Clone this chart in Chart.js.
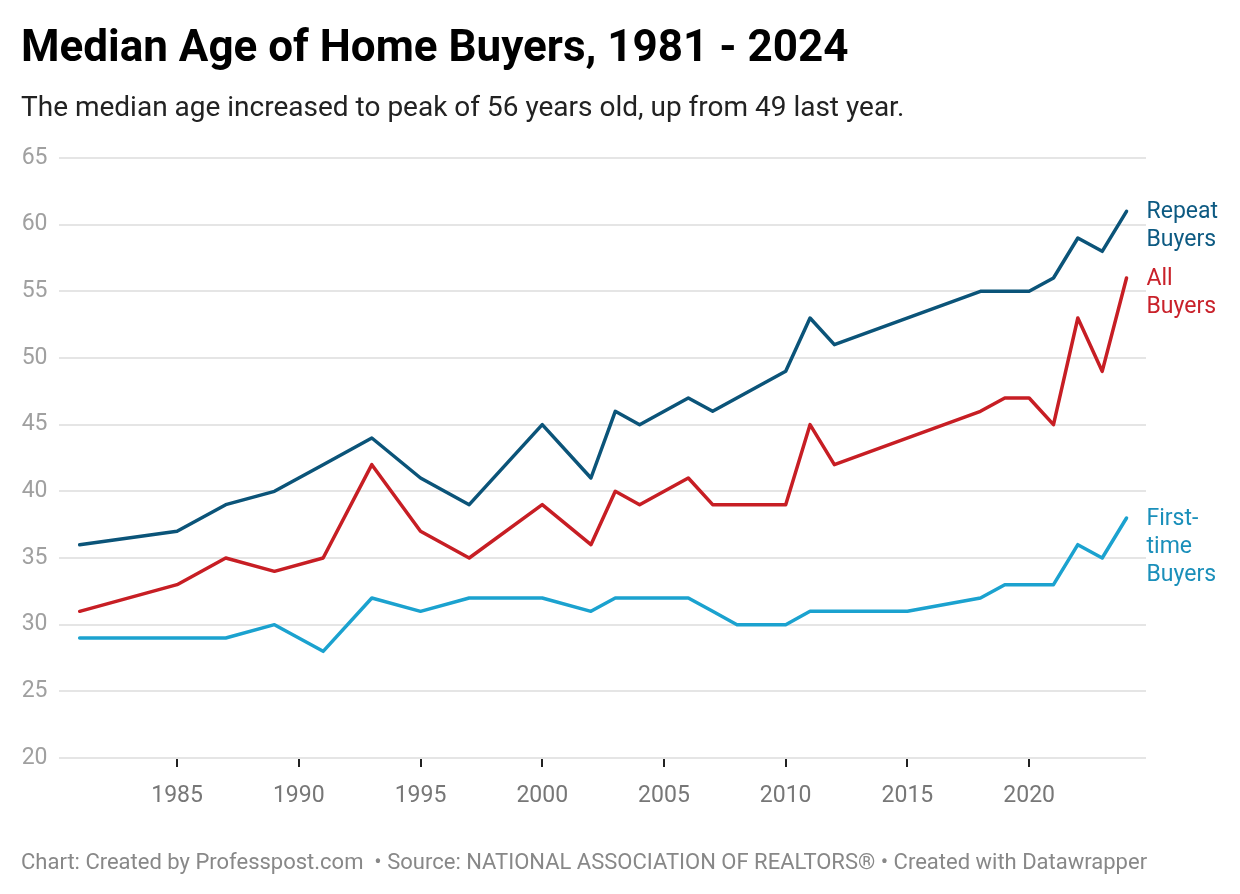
<!DOCTYPE html>
<html>
<head>
<meta charset="utf-8">
<script src="https://cdn.jsdelivr.net/npm/chart.js@4"></script>
<style>
  body { margin: 0; background: #fff; font-family: Roboto, sans-serif; }
  #wrap { position: relative; width: 1240px; height: 894px; }
  #grafica { position: absolute; left: 0; top: 0; }
  h1, p { line-height: 1; white-space: nowrap; }
  h1 { position: absolute; left: 21px; top: 24px; margin: 0; font-size: 44px; font-weight: 700; color: #000; }
  .sub { position: absolute; left: 21px; top: 93px; margin: 0; font-size: 28px; color: #222; }
  .foot { position: absolute; left: 21px; top: 851px; margin: 0; font-size: 22px; color: #888; }
</style>
</head>
<body>
<div id="wrap">
  <canvas id="grafica" width="1240" height="894"></canvas>
  <h1>Median Age of Home Buyers, 1981 - 2024</h1>
  <p class="sub">The median age increased to peak of 56 years old, up from 49 last year.</p>
  <p class="foot">Chart: Created by Professpost.com &nbsp;• Source: NATIONAL ASSOCIATION OF REALTORS® • Created with Datawrapper</p>
</div>
<script>
const years = [1981, 1985, 1987, 1989, 1991, 1993, 1995, 1997, 2000, 2002, 2003, 2004, 2006, 2007, 2008, 2010, 2011, 2012, 2015, 2018, 2019, 2020, 2021, 2022, 2023, 2024];
const repeatBuyers = [36, 37, 39, 40, 42, 44, 41, 39, 45, 41, 46, 45, 47, 46, null, 49, 53, 51, null, 55, null, 55, 56, 59, 58, 61];
const allBuyers = [31, 33, 35, 34, 35, 42, 37, 35, 39, 36, 40, 39, 41, 39, 39, 39, 45, 42, null, 46, 47, 47, 45, 53, 49, 56];
const firstTime = [29, 29, 29, 30, 28, 32, 31, 32, 32, 31, 32, 32, 32, 31, 30, 30, 31, 31, 31, 32, 33, 33, 33, 36, 35, 38];
const xTicks = [1985, 1990, 1995, 2000, 2005, 2010, 2015, 2020];
const seriesNames = [["Repeat", "Buyers"], ["All", "Buyers"], ["First-", "time", "Buyers"]];

function puntos(vals) {
  return years.map((y, i) => ({ x: y, y: vals[i] }));
}

// etiquetas al final de cada linea
const etiquetas = {
  id: 'etiquetas',
  afterDatasetsDraw(chart) {
    const ctx = chart.ctx;
    ctx.save();
    ctx.font = '23px Roboto';
    ctx.textBaseline = 'middle';
    ctx.textAlign = 'left';
    chart.data.datasets.forEach((ds, i) => {
      const meta = chart.getDatasetMeta(i);
      const last = meta.data[meta.data.length - 1];
      ctx.fillStyle = ds.labelColor;
      seriesNames[i].forEach((t, j) => {
        ctx.fillText(t, last.x + 20, last.y + 1 + j * 28);
      });
    });
    ctx.restore();
  }
};

const ctx = document.getElementById("grafica").getContext("2d");
new Chart(ctx, {
  type: 'line',
  data: {
    datasets: [
      { label: 'Repeat Buyers', data: puntos(repeatBuyers), borderColor: '#0b5479', labelColor: '#0d5a82' },
      { label: 'All Buyers', data: puntos(allBuyers), borderColor: '#c71e24', labelColor: '#c9212a' },
      { label: 'First-time Buyers', data: puntos(firstTime), borderColor: '#1ba2cf', labelColor: '#1a8fba' }
    ]
  },
  plugins: [etiquetas],
  options: {
    responsive: false,
    animation: false,
    spanGaps: true,
    layout: { padding: { top: 158, right: 94, bottom: 76, left: 0 } },
    elements: {
      line: { borderWidth: 3.5, tension: 0, borderJoinStyle: 'round', borderCapStyle: 'round' },
      point: { radius: 0 }
    },
    plugins: { legend: { display: false }, tooltip: { enabled: false } },
    scales: {
      x: {
        type: 'linear',
        min: 1980.13,
        max: 2024.8,
        afterBuildTicks: (axis) => { axis.ticks = xTicks.map(v => ({ value: v })); },
        afterFit: (axis) => { axis.height = 60; },
        border: { display: false },
        grid: { drawOnChartArea: false, drawTicks: true, tickLength: 9, color: '#222', lineWidth: 2 },
        ticks: { padding: 15, color: '#777', font: { family: 'Roboto', size: 23 }, callback: v => String(v), maxRotation: 0 }
      },
      y: {
        min: 20,
        max: 65,
        afterFit: (axis) => { axis.width = 58.5; },
        border: { display: false },
        grid: { color: '#e5e5e5', lineWidth: 2, drawTicks: false },
        ticks: { stepSize: 5, padding: 11, color: '#a0a0a0', font: { family: 'Roboto', size: 23 } }
      }
    }
  }
});
</script>
</body>
</html>
